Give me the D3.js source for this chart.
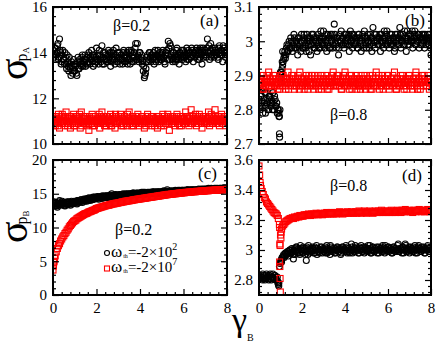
<!DOCTYPE html>
<html lang="en">
<head>
<meta charset="UTF-8">
<title>sigma vs gamma_B</title>
<script src="https://d3js.org/d3.v7.min.js"></script>
<style>
  body { margin: 0; background: #fff; font-family: "Liberation Serif", "Times New Roman", "DejaVu Serif", serif; }
  svg { display: block; }
  svg text { font-family: "Liberation Serif", "Times New Roman", "DejaVu Serif", serif; fill: #000; }
  .frame { fill: none; stroke: #000; stroke-width: 2px; }
  .axis path { display: none; }
  .axis line { stroke: #000; stroke-width: 1.2px; }
  .axis text { font-size: 15px; }
  .circ { fill: none; stroke: #000; stroke-width: 1.1px; }
  .sq { fill: none; stroke: #f00; stroke-width: 1.1px; }
</style>
</head>
<body>
<script>
// gamma_B grid: series sampled at 0, 0.05, ..., 8 and a second pass at 0.025, 0.075, ...
const xStep = 0.05;
const xTicks = [0, 2, 4, 6, 8];

// (a) sigma_pA, beta = 0.2
const aTicks = [10, 12, 14, 16];
const aBlack = [
  14.1,13.8,14.2,13.9,14.3,13.7,14.6,14.0,13.6,14.1,
  13.7,14.0,13.5,13.9,13.4,13.8,13.3,13.6,13.1,13.7,
  13.2,13.5,13.0,13.8,13.3,13.6,13.4,13.9,13.5,13.7,
  13.4,13.8,13.6,14.0,13.5,13.7,13.9,13.4,13.8,13.6,
  14.2,13.7,13.5,13.9,13.6,14.3,13.8,13.5,14.0,13.7,
  13.6,14.1,13.8,13.4,14.0,13.7,13.9,13.5,14.2,13.8,
  13.6,14.0,13.7,13.9,13.5,14.1,13.8,13.6,14.0,13.7,
  13.9,13.5,14.1,13.8,13.6,14.0,14.4,13.7,13.9,13.6,
  14.0,13.8,13.5,13.2,12.9,13.1,13.6,13.9,13.7,14.0,
  13.6,13.9,13.8,13.5,14.1,13.7,13.9,13.6,14.0,13.8,
  13.7,14.1,13.8,13.5,14.0,13.9,14.5,13.7,14.3,13.8,
  13.6,14.0,13.9,13.7,14.2,13.8,13.5,14.0,13.9,13.7,
  14.1,13.8,13.6,14.2,13.9,13.7,14.0,13.8,14.1,13.6,
  14.0,13.9,14.2,13.7,14.1,13.8,14.0,13.5,14.2,13.9,
  14.1,13.8,14.6,14.0,13.7,14.4,13.9,14.1,13.8,14.2,
  13.9,14.0,13.7,14.3,13.9,14.1,13.6,14.2,14.0,14.1,
  13.9
];
const aBlack2 = [
  13.9,14.2,13.7,14.0,14.4,13.8,14.1,13.5,13.9,13.7,
  13.5,13.8,13.3,13.6,13.2,13.5,13.0,13.4,13.2,13.5,
  13.4,13.1,13.6,13.3,13.7,13.5,13.8,13.4,13.6,13.9,
  13.7,13.5,13.9,13.6,13.8,14.1,13.6,13.9,13.5,13.8,
  13.6,13.9,14.1,13.7,13.8,13.5,14.0,13.7,13.9,13.6,
  13.9,13.7,14.0,13.6,13.8,14.1,13.7,13.9,13.6,14.0,
  13.8,13.5,13.9,13.7,14.0,13.6,13.9,13.8,13.5,14.1,
  13.7,14.0,13.6,13.9,13.8,14.2,13.7,14.4,13.8,14.0,
  13.7,13.9,13.6,13.4,13.0,13.3,13.8,13.6,14.0,13.8,
  13.9,13.7,14.0,13.8,13.6,13.9,14.1,13.8,13.7,13.9,
  14.0,13.8,13.6,13.9,14.1,13.7,14.2,14.4,13.9,13.7,
  14.0,13.8,13.6,14.1,13.9,13.7,14.0,13.8,14.1,13.9,
  13.8,14.0,13.9,13.7,14.1,14.0,13.8,14.2,13.9,14.0,
  13.8,14.1,13.9,14.0,13.7,14.2,13.9,14.1,13.8,14.0,
  13.9,14.2,14.0,14.3,14.1,13.8,14.2,14.0,13.9,14.1,
  14.0,13.8,14.2,14.0,14.1,13.9,14.3,14.0,13.8,14.1
];
const aRed = [
  11.0,11.2,10.8,11.1,10.9,11.3,10.7,11.0,11.2,10.9,
  11.1,10.8,11.4,11.0,10.9,11.2,10.7,11.1,11.0,11.3,
  10.8,11.1,10.9,11.2,11.0,10.7,11.4,11.0,10.9,11.1,
  11.2,10.8,11.0,10.6,11.1,10.9,11.3,11.0,10.8,11.2,
  11.0,10.9,11.1,10.7,11.2,11.4,10.9,11.0,11.1,10.8,
  11.2,11.0,10.9,11.3,10.8,11.1,11.0,10.7,11.2,10.9,
  11.1,11.0,11.3,10.8,11.1,10.9,11.2,11.0,10.8,11.1,
  11.4,10.9,11.0,11.2,10.8,11.1,10.9,11.0,11.3,10.8,
  11.1,10.9,11.2,11.0,10.7,11.1,11.0,11.3,10.9,11.1,
  11.0,10.8,11.2,10.9,11.1,11.0,10.7,11.2,10.9,11.1,
  11.0,11.3,10.8,11.1,10.9,11.0,11.2,10.6,11.1,10.9,
  11.2,11.0,10.8,11.1,11.3,10.9,11.0,11.2,10.8,11.1,
  11.0,10.9,11.4,11.0,11.1,10.8,11.2,11.5,10.9,11.1,
  11.0,11.3,10.8,11.1,10.9,11.2,11.0,10.7,11.1,11.0,
  11.2,10.9,11.1,11.4,10.8,11.0,11.2,10.9,11.1,11.5,
  10.9,11.0,11.2,10.8,11.1,11.3,10.9,11.0,11.2,10.8,
  11.1
];
const aRed2 = [
  11.1,10.9,11.0,11.2,10.8,11.0,11.1,10.9,11.3,11.0,
  10.9,11.2,11.0,10.8,11.1,11.0,11.2,10.9,11.1,10.8,
  11.0,11.2,11.1,10.9,11.3,11.0,10.8,11.1,11.2,10.9,
  11.0,11.1,10.9,11.2,11.0,11.1,10.8,11.2,11.0,10.9,
  11.1,11.0,11.3,10.9,11.0,11.1,11.2,10.8,11.0,11.2,
  10.9,11.1,11.0,10.8,11.2,11.0,11.1,11.3,10.9,11.0,
  11.2,10.9,11.0,11.1,10.8,11.2,11.0,10.9,11.3,11.0,
  11.1,11.0,10.8,11.2,11.1,10.9,11.2,11.1,10.9,11.0,
  11.0,11.2,10.9,11.1,11.0,10.8,11.2,11.0,11.1,10.9,
  11.2,11.0,11.1,10.8,11.0,11.2,10.9,11.1,11.0,10.8,
  11.1,11.0,11.2,10.9,11.1,11.3,10.9,11.0,11.2,11.0,
  10.9,11.1,11.0,11.2,10.9,11.1,10.8,11.1,11.0,11.2,
  11.1,10.9,11.0,11.2,10.9,11.1,11.0,10.9,11.2,11.0,
  11.1,10.9,11.2,11.0,11.3,11.0,10.9,11.1,11.2,10.9,
  11.0,11.1,10.9,11.2,11.0,11.3,10.9,11.1,11.0,11.2,
  11.1,10.9,11.0,11.2,11.0,10.9,11.1,11.2,10.9,11.0
];

// (b) sigma_pA, beta = 0.8
const bTicks = [2.7, 2.8, 2.9, 3.0, 3.1];
const bBlack = [
  2.83,2.80,2.84,2.81,2.86,2.82,2.79,2.85,2.83,2.80,
  2.84,2.81,2.82,2.85,2.80,2.83,2.81,2.79,2.80,2.78,
  2.88,2.91,2.93,2.95,2.97,2.96,2.99,2.97,3.00,2.98,
  3.00,2.97,2.99,3.01,2.98,3.00,2.96,3.01,2.99,2.97,
  3.00,2.98,3.02,2.99,2.97,3.01,2.99,3.00,2.96,3.02,
  2.99,3.01,2.98,3.00,2.97,3.02,3.00,2.98,3.01,2.99,
  3.03,2.99,3.00,2.97,3.02,3.01,2.98,3.00,3.02,2.99,
  3.05,3.00,2.98,3.01,2.96,3.02,3.00,2.99,3.01,2.98,
  3.00,3.02,2.99,3.01,2.97,3.03,3.00,2.98,3.02,3.00,
  2.99,3.01,2.98,3.02,3.00,2.97,3.01,2.99,3.03,3.00,
  2.98,3.02,3.00,2.99,3.01,2.97,3.04,3.00,2.98,3.02,
  3.00,2.99,3.01,2.97,3.02,3.00,2.98,3.01,2.99,3.03,
  3.00,2.98,3.02,3.00,2.99,3.01,2.97,3.02,3.00,2.99,
  3.01,3.04,2.98,3.00,3.02,2.99,3.01,2.97,3.03,3.00,
  2.99,3.02,3.00,2.98,3.01,3.03,2.99,3.00,3.02,2.98,
  3.01,3.00,2.99,3.02,2.98,3.01,3.00,3.02,2.99,3.01,
  2.96
];
const bBlack2 = [
  2.81,2.84,2.82,2.79,2.83,2.85,2.81,2.82,2.80,2.84,
  2.82,2.83,2.80,2.82,2.84,2.81,2.82,2.80,2.79,2.80,
  2.89,2.92,2.94,2.96,2.95,2.98,2.97,2.99,2.98,3.01,
  2.98,3.00,3.02,2.98,3.00,2.99,3.01,2.98,3.00,3.02,
  2.98,3.01,3.00,2.98,3.02,3.00,2.97,3.01,2.99,3.00,
  3.02,2.98,3.00,3.01,2.99,2.98,3.01,3.03,2.99,3.00,
  3.01,2.98,3.02,3.00,2.99,2.98,3.02,3.00,2.98,3.01,
  3.02,2.99,3.01,3.00,2.98,3.00,3.03,3.01,2.99,3.02,
  2.99,3.01,3.00,3.02,2.99,3.00,3.02,3.01,2.99,3.01,
  3.00,2.98,3.02,3.01,2.99,3.00,3.02,2.98,3.01,2.99,
  3.01,3.00,2.98,3.02,3.00,3.01,2.99,3.02,3.00,3.01,
  2.99,3.01,3.02,3.00,2.99,3.01,3.03,3.00,3.02,2.99,
  3.01,3.00,2.99,3.02,3.01,3.00,2.98,3.01,3.02,3.00,
  2.99,3.02,3.00,3.01,2.99,3.03,3.00,3.01,2.99,3.02,
  3.00,3.01,3.03,3.00,3.02,2.99,3.01,3.00,3.02,3.01,
  2.99,3.02,3.01,3.00,3.02,2.99,3.01,3.00,3.02,2.98
];
const bBlackExtra = [[0.93, 2.78], [0.95, 2.73], [0.96, 2.72], [1.0, 2.91], [1.02, 2.90], [1.08, 2.94], [1.1, 2.97]];
const bRed = [
  2.87,2.89,2.88,2.86,2.90,2.88,2.87,2.89,2.88,2.91,
  2.87,2.88,2.86,2.89,2.88,2.90,2.87,2.88,2.89,2.86,
  2.88,2.90,2.87,2.89,2.88,2.86,2.89,2.91,2.88,2.87,
  2.89,2.88,2.90,2.86,2.88,2.87,2.89,2.88,2.91,2.87,
  2.88,2.89,2.86,2.88,2.90,2.87,2.89,2.88,2.87,2.90,
  2.88,2.86,2.89,2.88,2.87,2.90,2.88,2.89,2.86,2.88,
  2.89,2.87,2.88,2.90,2.88,2.86,2.89,2.87,2.88,2.91,
  2.88,2.87,2.89,2.88,2.90,2.87,2.88,2.86,2.89,2.88,
  2.91,2.87,2.88,2.89,2.86,2.88,2.90,2.88,2.87,2.89,
  2.88,2.86,2.89,2.87,2.88,2.90,2.87,2.89,2.88,2.86,
  2.88,2.89,2.87,2.90,2.88,2.86,2.89,2.88,2.87,2.91,
  2.88,2.89,2.86,2.88,2.87,2.90,2.88,2.89,2.87,2.88,
  2.90,2.86,2.88,2.89,2.87,2.88,2.91,2.88,2.86,2.89,
  2.88,2.87,2.90,2.88,2.89,2.86,2.88,2.87,2.89,2.88,
  2.90,2.87,2.88,2.86,2.89,2.88,2.91,2.87,2.88,2.89,
  2.86,2.88,2.90,2.87,2.89,2.88,2.87,2.90,2.88,2.89,
  2.88
];
const bRed2 = [
  2.88,2.87,2.89,2.88,2.86,2.89,2.88,2.90,2.87,2.88,
  2.89,2.87,2.88,2.90,2.87,2.89,2.88,2.86,2.88,2.89,
  2.87,2.88,2.90,2.88,2.87,2.89,2.88,2.86,2.89,2.88,
  2.90,2.87,2.88,2.89,2.87,2.88,2.90,2.86,2.88,2.89,
  2.87,2.88,2.89,2.87,2.88,2.86,2.90,2.88,2.89,2.87,
  2.88,2.90,2.87,2.88,2.89,2.86,2.88,2.87,2.90,2.88,
  2.87,2.89,2.88,2.86,2.89,2.88,2.87,2.90,2.88,2.87,
  2.89,2.88,2.90,2.87,2.88,2.89,2.86,2.88,2.90,2.87,
  2.88,2.89,2.87,2.88,2.90,2.88,2.86,2.89,2.88,2.87,
  2.90,2.88,2.87,2.89,2.86,2.88,2.89,2.87,2.90,2.88,
  2.87,2.88,2.89,2.86,2.88,2.90,2.87,2.88,2.89,2.87,
  2.88,2.90,2.88,2.87,2.89,2.86,2.88,2.89,2.87,2.90,
  2.88,2.87,2.89,2.88,2.90,2.87,2.88,2.86,2.89,2.88,
  2.87,2.89,2.88,2.90,2.87,2.88,2.89,2.86,2.88,2.90,
  2.89,2.87,2.88,2.89,2.87,2.90,2.88,2.86,2.89,2.88,
  2.87,2.89,2.88,2.90,2.88,2.87,2.89,2.88,2.86,2.89
];

// (c) sigma_pB, beta = 0.2
const cTicks = [0, 5, 10, 15, 20];
const cBlack = [
  13.4,13.8,13.2,13.6,13.0,13.5,14.0,13.3,13.6,13.4,
  13.7,13.2,13.5,13.8,13.4,13.6,13.3,13.9,13.5,13.7,
  13.6,13.9,13.5,14.0,13.7,13.8,14.1,13.7,14.0,13.9,
  14.2,13.9,14.1,14.4,14.0,14.3,14.1,14.5,14.2,14.4,
  14.3,14.6,14.2,14.5,14.4,14.3,14.6,14.4,14.7,14.5,
  14.4,14.7,14.5,14.6,15.0,14.6,14.7,14.5,14.8,14.6,
  14.8,14.7,14.9,14.6,14.8,14.9,14.7,15.0,14.8,14.9,
  14.8,15.0,14.9,14.8,15.1,14.9,15.0,14.8,15.1,15.0,
  14.9,15.1,15.0,15.2,14.9,15.1,15.0,15.2,15.1,15.0,
  15.2,15.1,15.0,15.3,15.1,15.2,15.0,15.3,15.2,15.1,
  15.3,15.2,15.4,15.1,15.3,15.6,15.2,15.3,15.4,15.2,
  15.4,15.3,15.2,15.4,15.3,15.5,15.3,15.4,15.2,15.5,
  15.4,15.5,15.3,15.4,15.6,15.4,15.5,15.3,15.6,15.5,
  15.4,15.6,15.5,15.4,15.7,15.5,15.6,15.4,15.6,15.5,
  15.7,15.5,15.6,15.8,15.5,15.7,15.6,15.5,15.7,15.6,
  15.8,15.6,15.7,15.5,15.8,15.7,15.6,15.9,15.7,15.6,
  15.8
];
const cBlack2 = [
  13.6,13.3,13.7,13.2,13.5,13.8,13.4,13.6,13.9,13.5,
  13.3,13.6,13.7,13.4,13.8,13.5,13.7,13.6,13.8,13.9,
  13.7,13.8,14.0,13.8,13.9,14.1,13.9,14.0,14.2,14.1,
  14.0,14.3,14.2,14.1,14.3,14.4,14.2,14.3,14.5,14.3,
  14.5,14.4,14.4,14.6,14.5,14.7,14.5,14.6,14.5,14.7,
  14.6,14.5,14.8,14.7,14.6,14.8,14.6,14.9,14.7,14.8,
  14.7,14.9,14.8,14.7,15.0,14.8,14.9,14.8,15.0,14.9,
  15.0,14.9,15.0,15.1,14.9,15.0,15.1,15.0,14.9,15.1,
  15.0,15.2,15.0,15.1,15.2,15.0,15.1,15.1,15.2,15.1,
  15.1,15.3,15.2,15.1,15.2,15.3,15.2,15.1,15.3,15.2,
  15.2,15.4,15.3,15.2,15.4,15.3,15.3,15.4,15.3,15.4,
  15.3,15.4,15.5,15.3,15.4,15.4,15.5,15.3,15.5,15.4,
  15.5,15.4,15.5,15.6,15.4,15.5,15.6,15.5,15.4,15.6,
  15.5,15.5,15.6,15.6,15.5,15.6,15.7,15.5,15.7,15.6,
  15.6,15.7,15.6,15.7,15.6,15.8,15.7,15.6,15.8,15.7,
  15.7,15.8,15.6,15.8,15.7,15.8,15.7,15.8,15.9,15.7
];
const cRed = [
  3.7,5.0,5.8,6.4,6.9,7.3,7.6,8.0,8.3,8.6,
  8.8,9.1,9.3,9.6,9.8,10.1,10.3,10.5,10.7,10.9,
  11.0,11.1,11.3,11.4,11.5,11.6,11.7,11.8,11.9,12.0,
  12.05,12.1,12.2,12.3,12.35,12.4,12.5,12.55,12.6,12.7,
  12.8,12.85,12.9,12.95,13.0,13.05,13.1,13.15,13.2,13.25,
  13.3,13.3,13.35,13.4,13.45,13.5,13.5,13.55,13.6,13.6,
  13.65,13.7,13.7,13.75,13.8,13.8,13.85,13.9,13.9,13.95,
  13.95,14.0,14.0,14.05,14.1,14.1,14.15,14.15,14.2,14.2,
  14.25,14.25,14.3,14.3,14.35,14.35,14.4,14.4,14.45,14.45,
  14.5,14.5,14.55,14.55,14.6,14.6,14.65,14.65,14.7,14.7,
  14.75,14.75,14.8,14.8,14.85,14.85,14.9,14.9,14.9,14.95,
  14.95,15.0,15.0,15.0,15.05,15.05,15.1,15.1,15.1,15.15,
  15.15,15.15,15.2,15.2,15.2,15.25,15.25,15.25,15.3,15.3,
  15.3,15.3,15.35,15.35,15.35,15.35,15.4,15.4,15.4,15.4,
  15.45,15.45,15.45,15.45,15.5,15.5,15.5,15.5,15.5,15.55,
  15.55,15.55,15.55,15.55,15.6,15.6,15.6,15.6,15.6,15.6,
  15.65
];
const cRedExtra = [[0.02, 4.3], [0.03, 4.8], [0.07, 5.4]];

// (d) sigma_pB, beta = 0.8
const dTicks = [2.8, 3.0, 3.2, 3.4, 3.6];
const dBlack = [
  2.83,2.81,2.82,2.80,2.83,2.82,2.81,2.84,2.82,2.80,
  2.83,2.81,2.82,2.84,2.81,2.83,2.80,2.82,2.77,
  2.89,2.92,2.94,2.95,2.97,2.96,2.98,2.97,2.99,2.98,3.00,
  2.98,3.00,2.97,3.01,2.99,3.02,2.98,3.00,2.97,3.01,
  2.99,3.02,3.00,2.97,3.01,2.99,3.03,2.98,3.00,2.99,
  3.01,2.98,3.02,3.00,2.97,3.01,2.99,3.00,3.02,2.98,
  3.00,3.01,2.98,3.03,2.99,3.00,2.97,3.02,3.00,2.99,
  3.01,2.98,3.00,3.02,2.99,3.01,2.97,3.00,3.02,2.99,
  3.00,3.03,2.98,3.01,2.99,3.00,3.04,2.98,3.01,3.00,
  2.99,3.02,3.00,2.98,3.01,3.03,2.99,3.00,2.98,3.02,
  3.00,3.01,2.99,3.03,2.98,3.00,3.02,2.99,3.01,3.00,
  2.98,3.02,3.00,3.01,2.99,3.03,3.00,2.98,3.01,3.00,
  3.02,2.99,3.01,3.00,2.98,3.02,3.01,2.99,3.00,3.03,
  2.99,3.01,3.00,2.98,3.02,3.00,3.04,2.99,3.01,3.00,
  2.98,3.02,3.00,3.01,2.99,3.03,3.00,2.98,3.02,3.00,
  3.01,2.99,3.00,3.02,2.98,3.01,3.00,3.03,2.99,3.01,
  3.00
];
const dBlack2 = [
  2.81,2.83,2.82,2.84,2.81,2.80,2.83,2.82,2.81,2.83,
  2.84,2.80,2.82,2.81,2.83,2.82,2.80,2.79,2.78,
  2.91,
  2.93,2.95,2.96,2.95,2.98,2.97,2.99,2.96,3.00,2.98,
  3.01,2.99,3.00,2.97,3.02,2.99,3.01,2.98,3.03,3.00,
  2.98,3.01,3.00,2.99,3.02,2.97,3.00,3.01,2.99,3.02,
  3.00,2.98,3.01,3.03,2.99,3.00,2.98,3.02,3.00,3.01,
  2.99,3.02,3.00,2.98,3.01,3.00,3.03,2.99,3.01,3.00,
  2.98,3.01,3.02,3.00,2.99,3.01,2.98,3.02,3.00,3.01,
  3.00,2.99,3.02,3.01,2.98,3.00,3.02,3.00,2.99,3.03,
  3.01,3.00,2.98,3.02,3.00,3.01,2.99,3.02,3.01,3.00,
  2.99,3.03,3.00,3.01,2.98,3.02,3.00,2.99,3.01,3.02,
  3.00,2.98,3.01,3.00,3.02,2.99,3.01,3.03,3.00,2.99,
  3.02,3.00,3.01,2.98,3.00,3.02,2.99,3.01,3.00,3.04,
  2.99,3.01,3.00,3.02,2.98,3.01,3.03,3.00,2.99,3.02,
  3.00,3.01,2.99,3.02,3.00,2.98,3.01,3.00,3.03,3.01,
  2.99,3.02,3.00,3.01,2.98,3.00,3.02,3.01,2.99,3.00
];
const dBlackExtra = [[0.88, 2.78], [0.92, 2.76], [1.05, 2.92], [1.6, 2.94], [2.2, 2.93]];
const dRed = [
  3.56,3.45,3.41,3.39,3.37,3.35,3.34,3.32,3.31,3.30,
  3.29,3.28,3.27,3.26,3.25,3.245,3.24,3.23,3.21,3.17,
  3.10,3.14,3.16,3.17,3.18,3.19,3.195,3.20,3.205,3.21,
  3.21,3.215,3.21,3.22,3.215,3.22,3.225,3.22,3.23,3.225,
  3.23,3.225,3.235,3.23,3.235,3.23,3.24,3.235,3.23,3.24,
  3.235,3.24,3.235,3.245,3.24,3.235,3.24,3.245,3.24,3.235,
  3.24,3.245,3.24,3.25,3.24,3.245,3.24,3.25,3.245,3.24,
  3.25,3.245,3.24,3.25,3.245,3.255,3.245,3.25,3.24,3.25,
  3.245,3.25,3.255,3.245,3.25,3.245,3.255,3.25,3.245,3.25,
  3.255,3.245,3.25,3.26,3.25,3.245,3.255,3.25,3.26,3.25,
  3.245,3.255,3.25,3.26,3.25,3.255,3.245,3.25,3.26,3.255,
  3.25,3.26,3.25,3.255,3.265,3.25,3.255,3.26,3.25,3.255,
  3.26,3.25,3.255,3.265,3.25,3.26,3.255,3.25,3.26,3.265,
  3.255,3.26,3.25,3.265,3.26,3.255,3.27,3.26,3.255,3.26,
  3.265,3.255,3.26,3.25,3.265,3.26,3.255,3.265,3.26,3.27,
  3.26,3.255,3.265,3.26,3.255,3.265,3.26,3.27,3.255,3.26,
  3.26
];
const dRedExtra = [[0.03, 3.50], [0.07, 3.43], [0.96, 3.15], [0.97, 3.04], [0.98, 3.03],
  [0.96, 2.92], [0.97, 2.89], [0.98, 2.81], [0.99, 2.72], [1.02, 3.08], [1.03, 3.12]];

const width = 436, height = 346;
const serif = '"Liberation Serif", "Times New Roman", "DejaVu Serif", serif';

const svg = d3.select("body").append("svg")
  .attr("width", width)
  .attr("height", height)
  .attr("font-family", serif);

function toPoints(ys, offset) {
  return ys.map((v, i) => [offset + i * xStep, v]);
}

function minorTicks(major, step, domain) {
  const out = [];
  const lo = major[0] - (major[1] - major[0]);
  for (let v = lo; v <= domain[1] + 1e-9; v += step) {
    const r = Math.round(v * 1000) / 1000;
    if (r < domain[0] - 1e-9) continue;
    if (major.some(m => Math.abs(m - r) < 1e-6)) continue;
    out.push(r);
  }
  return out;
}

const fmt = d3.format("~g");

function drawPanel(p) {
  const x = d3.scaleLinear().domain([0, 8]).range([p.left, p.right]);
  const y = d3.scaleLinear().domain(p.yDomain).range([p.bottom, p.top]);
  const g = svg.append("g");

  const clipId = "clip-" + p.id;
  svg.append("clipPath").attr("id", clipId)
    .append("rect")
    .attr("x", p.left).attr("y", p.top)
    .attr("width", p.right - p.left).attr("height", p.bottom - p.top);

  const plot = g.append("g").attr("clip-path", `url(#${clipId})`);

  const blackPts = p.black.flatMap((ys, k) => toPoints(ys, k * xStep / 2)).concat(p.blackExtra || []);
  const redPts = p.red.flatMap((ys, k) => toPoints(ys, k * xStep / 2)).concat(p.redExtra || []);

  plot.selectAll("circle.circ")
    .data(blackPts)
    .join("circle")
    .attr("class", "circ")
    .attr("cx", d => x(d[0]))
    .attr("cy", d => y(d[1]))
    .attr("r", 3);

  const s = 6;
  plot.selectAll("rect.sq")
    .data(redPts)
    .join("rect")
    .attr("class", "sq")
    .attr("x", d => x(d[0]) - s / 2)
    .attr("y", d => y(d[1]) - s / 2)
    .attr("width", s)
    .attr("height", s);

  const xMinor = minorTicks(xTicks, 0.4, [0, 8]);
  const yStep = (p.ticks[1] - p.ticks[0]) / 5;
  const yMinor = minorTicks(p.ticks, yStep, p.yDomain);

  // major + minor ticks on all four sides, pointing inward
  const axes = [
    [d3.axisBottom(x).tickValues(xTicks).tickSize(-6).tickPadding(7).tickFormat(p.showX ? fmt : () => ""), 0, p.bottom],
    [d3.axisBottom(x).tickValues(xMinor).tickSize(-3).tickFormat(() => ""), 0, p.bottom],
    [d3.axisTop(x).tickValues(xTicks).tickSize(-6).tickFormat(() => ""), 0, p.top],
    [d3.axisTop(x).tickValues(xMinor).tickSize(-3).tickFormat(() => ""), 0, p.top],
    [d3.axisLeft(y).tickValues(p.ticks).tickSize(-6).tickPadding(6).tickFormat(fmt), p.left, 0],
    [d3.axisLeft(y).tickValues(yMinor).tickSize(-3).tickFormat(() => ""), p.left, 0],
    [d3.axisRight(y).tickValues(p.ticks).tickSize(-6).tickFormat(() => ""), p.right, 0],
    [d3.axisRight(y).tickValues(yMinor).tickSize(-3).tickFormat(() => ""), p.right, 0]
  ];
  axes.forEach(([ax, tx, ty]) => {
    g.append("g").attr("class", "axis").attr("transform", `translate(${tx},${ty})`)
      .call(ax)
      .attr("font-family", serif)
      .attr("font-size", 15);
  });

  g.append("rect").attr("class", "frame")
    .attr("x", p.left).attr("y", p.top)
    .attr("width", p.right - p.left).attr("height", p.bottom - p.top);

  g.append("text").attr("x", p.tagX).attr("y", p.tagY)
    .attr("font-size", 17).text(`(${p.id})`);
  g.append("text").attr("x", p.betaX).attr("y", p.betaY)
    .attr("font-size", 16).text(p.beta);
}

const panels = [
  { id: "a", left: 53, right: 227, top: 7, bottom: 144, yDomain: [10, 16], ticks: aTicks,
    black: [aBlack, aBlack2], red: [aRed, aRed2], showX: false, tagX: 200, tagY: 26,
    beta: "β=0.2", betaX: 113, betaY: 31 },
  { id: "b", left: 259, right: 431, top: 7, bottom: 144, yDomain: [2.7, 3.1], ticks: bTicks,
    black: [bBlack, bBlack2], blackExtra: bBlackExtra, red: [bRed, bRed2], showX: false,
    tagX: 405, tagY: 26, beta: "β=0.8", betaX: 330, betaY: 120 },
  { id: "c", left: 53, right: 227, top: 160, bottom: 295, yDomain: [0, 20], ticks: cTicks,
    black: [cBlack, cBlack2], red: [cRed], redExtra: cRedExtra, showX: true, tagX: 198, tagY: 179,
    beta: "β=0.2", betaX: 115, betaY: 235 },
  { id: "d", left: 259, right: 431, top: 160, bottom: 295, yDomain: [2.7, 3.6], ticks: dTicks,
    black: [dBlack, dBlack2], blackExtra: dBlackExtra, red: [dRed], redExtra: dRedExtra, showX: true,
    tagX: 402, tagY: 181, beta: "β=0.8", betaX: 330, betaY: 191 }
];

panels.forEach(drawPanel);

// legend in panel (c)
const legend = svg.append("g").attr("font-size", 15);
legend.append("circle").attr("class", "circ").attr("cx", 107).attr("cy", 253).attr("r", 2.5);
legend.append("rect").attr("class", "sq").attr("x", 104.5).attr("y", 266).attr("width", 5).attr("height", 5);
[["2", 257], ["7", 272]].forEach(([exp, base]) => {
  const t = legend.append("text").attr("x", 111).attr("y", base);
  t.append("tspan").attr("font-size", 17).text("ω");
  t.append("tspan").attr("font-size", 6).attr("dx", 1).attr("dy", 1).text("th");
  t.append("tspan").attr("dy", -1).text("=-2×10");
  t.append("tspan").attr("font-size", 10).attr("dy", -7).text(exp);
});

// axis titles
function yTitle(tx, ty, sub) {
  const t = svg.append("text").attr("transform", `translate(${tx},${ty}) rotate(-90)`);
  t.append("tspan").attr("font-size", 40).text("σ");
  t.append("tspan").attr("font-size", 16).attr("dx", -3).text("p");
  t.append("tspan").attr("font-size", 9).attr("dy", 2).text(sub);
}
yTitle(27, 80, "A");
yTitle(27, 243, "B");

const xt = svg.append("text").attr("x", 232).attr("y", 331);
xt.append("tspan").attr("font-size", 34).text("γ");
xt.append("tspan").attr("font-size", 10).attr("dy", 10).text("B");
</script>
</body>
</html>
